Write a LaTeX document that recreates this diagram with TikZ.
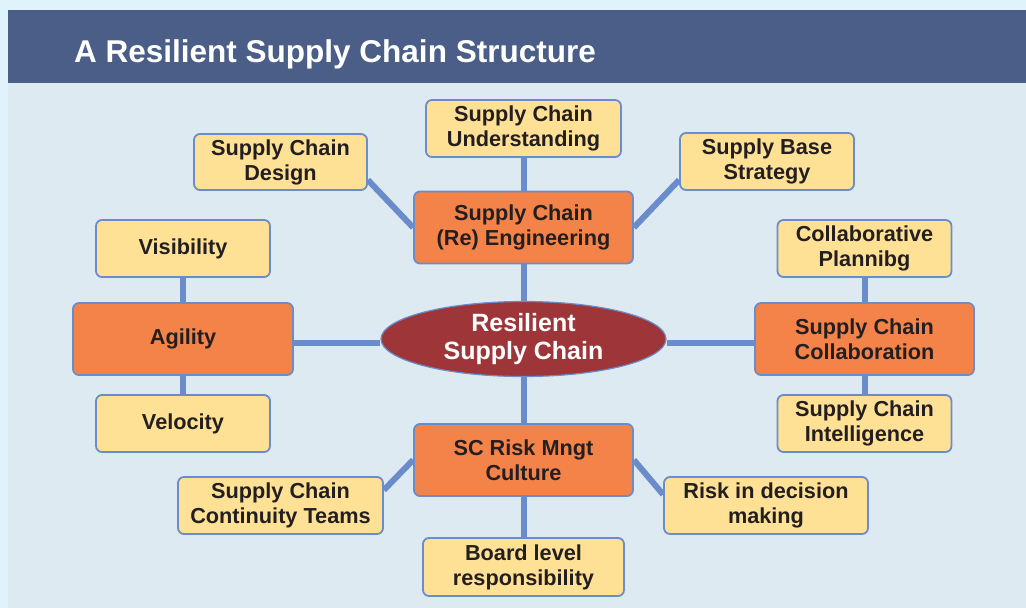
\documentclass[tikz,border=0pt]{standalone}
\usepackage{fontspec}
\setmainfont{Liberation Sans}
\usepackage{tikz}
\usetikzlibrary{calc}
\usetikzlibrary{shapes.geometric}
\definecolor{outerbg}{HTML}{E0F3FC}
\definecolor{panelbg}{HTML}{DDEAF1}
\definecolor{titlebar}{HTML}{4A5E87}
\definecolor{edgeblue}{HTML}{6B8CCB}
\definecolor{boxyellow}{HTML}{FFE196}
\definecolor{boxorange}{HTML}{F48349}
\definecolor{corered}{HTML}{9E3639}
\definecolor{inktext}{HTML}{231F20}
\pgfdeclarelayer{panel}
\pgfdeclarelayer{edges}
\pgfsetlayers{panel,edges,main}
\tikzset{
  leaf/.style={draw=edgeblue,line width=1.8pt,fill=boxyellow,rounded corners=6pt,
    align=center,text=inktext,inner sep=0pt,minimum width=174pt,minimum height=57pt,
    font=\bfseries\fontsize{21.7}{25}\selectfont},
  branch/.style={leaf,fill=boxorange,minimum width=219pt,minimum height=72pt},
  link/.style={draw=edgeblue,line width=6pt}
}

\begin{document}
\begin{tikzpicture}[line cap=butt,line join=round,x=1pt,y=-1pt]
            \begin{pgfonlayer}{panel}
            \fill[outerbg] (0,0) rectangle (1026,608);
            \fill[panelbg] (8,10) rectangle (1026,608);
            \fill[titlebar] (8,10) rectangle (1026,83);
            \end{pgfonlayer}
            \node[anchor=base west,inner sep=0pt,text=white,font=\bfseries\fontsize{31.5}{35}\selectfont] (title) at (74,62) {A Resilient Supply Chain Structure};
            % centre
            \node[ellipse,draw=edgeblue,line width=1.2pt,fill=corered,text=white,align=center,inner sep=0pt,
              minimum width=285pt,minimum height=75pt,font=\bfseries\fontsize{25}{28}\selectfont] (core) at (523.5,339) {Resilient\\Supply Chain};
            % branches
            \node[branch] (eng) at (523.5,227.5) {Supply Chain\\(Re) Engineering};
            \node[branch,minimum width=220pt] (agility) at (183,339) {Agility};
            \node[branch] (collab) at (864.5,339) {Supply Chain\\Collaboration};
            \node[branch] (risk) at (523.5,460) {SC Risk Mngt\\Culture};
            % leaves
            \node[leaf,minimum width=195pt] (underst) at (523.5,128.5) {Supply Chain\\Understanding};
            \node[leaf,minimum width=173pt,minimum height=56pt] (design) at (280.5,162) {Supply Chain\\Design};
            \node[leaf] (base) at (767,161.5) {Supply Base\\Strategy};
            \node[leaf] (visib) at (183,248.5) {Visibility};
            \node[leaf] (veloc) at (183,423.5) {Velocity};
            \node[leaf] (collplan) at (864.5,248.5) {Collaborative\\Plannibg};
            \node[leaf] (intel) at (864.5,423.5) {Supply Chain\\Intelligence};
            \node[leaf,minimum width=205pt] (teams) at (280.5,505.5) {Supply Chain\\Continuity Teams};
            \node[leaf,minimum width=201pt,minimum height=58pt] (board) at (523.5,567) {Board level\\responsibility};
            \node[leaf,minimum width=204pt] (decision) at (766,505.5) {Risk in decision\\making};
            \begin{pgfonlayer}{edges}
            \draw[link] (underst) -- (eng);
            \draw[link] (eng) -- (core);
            \draw[link] (eng.west) -- ($(design.east)+(0,18)$);
            \draw[link] (eng.east) -- ($(base.west)+(0,18.5)$);
            \draw[link] (visib) -- (agility);
            \draw[link] (agility) -- (veloc);
            \draw[link] ([yshift=-4pt]agility.east) -- ([yshift=-4pt]core.west);
            \draw[link] ([yshift=-4pt]core.east) -- ([yshift=-4pt]collab.west);
            \draw[link] (collplan) -- (collab);
            \draw[link] (collab) -- (intel);
            \draw[link] (core) -- (risk);
            \draw[link] (risk) -- (board);
            \draw[link] (risk.west) -- ($(teams.east)+(0,-15.5)$);
            \draw[link] (risk.east) -- ($(decision.west)+(0,-11)$);
            \end{pgfonlayer}
            \end{tikzpicture}
\end{document}
